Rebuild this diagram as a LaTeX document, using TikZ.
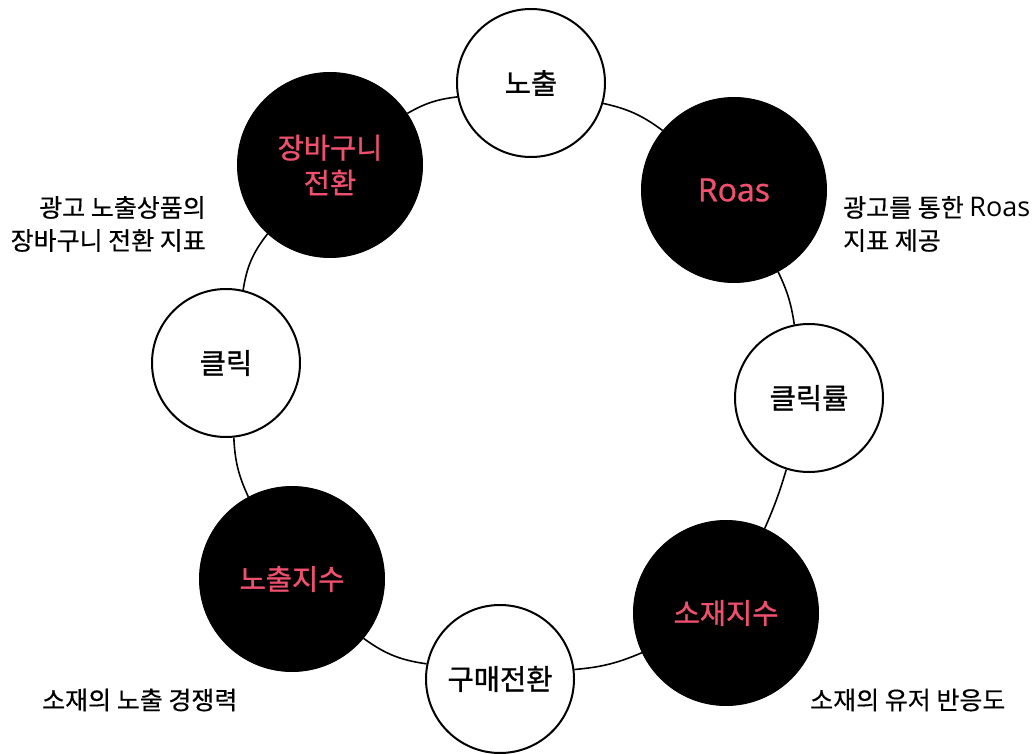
\documentclass[tikz,border=0pt]{standalone}
\usepackage{fontspec}
\setmainfont{Noto Sans CJK KR}
\newfontfamily\labfont[FakeBold=1]{Noto Sans CJK KR}
\newfontfamily\descfont[FakeBold=0.4]{Noto Sans CJK KR}
\newfontfamily\latlab[FakeBold=1]{Open Sans}
\newfontfamily\latdesc{Open Sans}
\definecolor{accent}{HTML}{F0506E}
\begin{document}
\begin{tikzpicture}[x=1pt,y=-1pt,
  whitenode/.style={circle,draw=black,line width=2pt,fill=white,minimum size=148pt,inner sep=0pt,
    font=\labfont\fontsize{28.5}{32}\selectfont,text=black},
  blacknode/.style={circle,draw=black,line width=1pt,fill=black,minimum size=185pt,inner sep=0pt,
    font=\labfont\fontsize{28.5}{35}\selectfont,text=accent,align=center},
  desc/.style={inner sep=0pt,font=\descfont\fontsize{25}{33}\selectfont,text=black},
  link/.style={line width=1.6pt,black}]
\useasboundingbox (0,0) rectangle (1036,754);
\node[whitenode] (nochul) at (531,83) {노출};
\node[blacknode] (roas) at (734,190) {\latlab\fontsize{32}{32}\selectfont Roas};
\node[whitenode] (ctr) at (809,398) {클릭률};
\node[blacknode] (sojae) at (726,613) {소재지수};
\node[whitenode] (buy) at (500,679) {구매전환};
\node[blacknode] (nochulidx) at (292,579) {노출지수};
\node[whitenode] (click) at (226,363) {클릭};
\node[blacknode] (cart) at (330,165) {장바구니\\전환};
\draw[link] (nochul) to[bend left=12] (roas);
\draw[link] (roas) to[bend left=8.5] (ctr);
\draw[link] (ctr) to[bend left=3.5] (sojae);
\draw[link] (sojae) to[bend left=9] (buy);
\draw[link] (buy) to[bend left=14] (nochulidx);
\draw[link] (nochulidx) to[bend left=11] (click);
\draw[link] (click) to[bend left=14.5] (cart);
\draw[link] (cart) to[bend left=11.5] (nochul);
\node[desc,align=right,anchor=east] (dcart) at (206,224) {광고 노출상품의\\장바구니 전환 지표};
\node[desc,align=left,anchor=west] (droas) at (843,224) {광고를 통한 {\latdesc\fontsize{27}{33}\selectfont Roas}\\지표 제공};
\node[desc,anchor=west] (dnochul) at (42,700) {소재의 노출 경쟁력};
\node[desc,anchor=west] (dsojae) at (810,700) {소재의 유저 반응도};
\end{tikzpicture}
\end{document}
